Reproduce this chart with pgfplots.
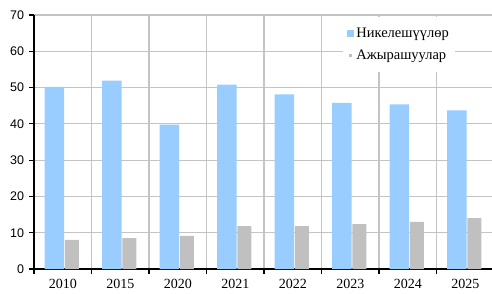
\documentclass[border=0pt]{standalone}
\usepackage{pgfplots}
\pgfplotsset{compat=1.18}
\usepackage{fontspec}
\setmainfont{Liberation Serif}
\newfontfamily\arialf{Liberation Sans}
\definecolor{barblue}{RGB}{153,204,255}
\definecolor{bargray}{RGB}{192,192,192}
\definecolor{gridgray}{RGB}{196,196,196}
\begin{document}
\begin{tikzpicture}[x=1pt,y=1pt]
\path[use as bounding box] (0,0) rectangle (492,293);
\begin{axis}[
  at={(34pt,24pt)}, anchor=south west,
  width=458pt, height=254pt, scale only axis,
  xmin=-0.5, xmax=7.465, ymin=0, ymax=70,
  ytick={0,10,...,70},
  xtick={-0.5,0.5,...,6.5},
  xticklabels={2010,2015,2020,2021,2022,2023,2024,2025},
  xmajorgrids, ymajorgrids,
  grid style={gridgray, line width=1.2pt},
  axis x line*=bottom, axis y line*=left,
  axis line style={black, line width=1.4pt, -},
  tick style={black, line width=1.2pt},
  tick align=outside, major tick length=4.5pt,
  yticklabel style={font=\arialf\fontsize{12.5}{14}\selectfont, /pgf/number format/assume math mode=true, xshift=-2pt},
  xticklabel style={font=\fontsize{14}{15}\selectfont, xshift=28.75pt, yshift=-2pt},
  legend style={at={(rel axis cs:0.675,0.992)}, anchor=north west, draw=none, fill=white,
    font=\fontsize{14.5}{16}\selectfont, inner xsep=4pt, inner ysep=9pt, row sep=7pt},
  legend cell align=left,
]
\addplot[ybar, bar width=19.5pt, bar shift=-8.5pt, fill=barblue, draw=none,
  legend image code/.code={\fill[barblue] (0pt,-3.5pt) rectangle (7pt,3.5pt);}]
  coordinates {(0,50.2) (1,51.9) (2,39.8) (3,50.8) (4,48.1) (5,45.8) (6,45.4) (7,43.7)};
\addlegendentry{Никелешүүлөр}
\addplot[ybar, bar width=14pt, bar shift=9pt, fill=bargray, draw=none,
  legend image code/.code={\fill[bargray] (2pt,-1.5pt) rectangle (5pt,1.5pt);}]
  coordinates {(0,8.0) (1,8.5) (2,9.1) (3,11.8) (4,11.8) (5,12.4) (6,13.0) (7,14.0)};
\addlegendentry{Ажырашуулар}
\end{axis}
\end{tikzpicture}
\end{document}
